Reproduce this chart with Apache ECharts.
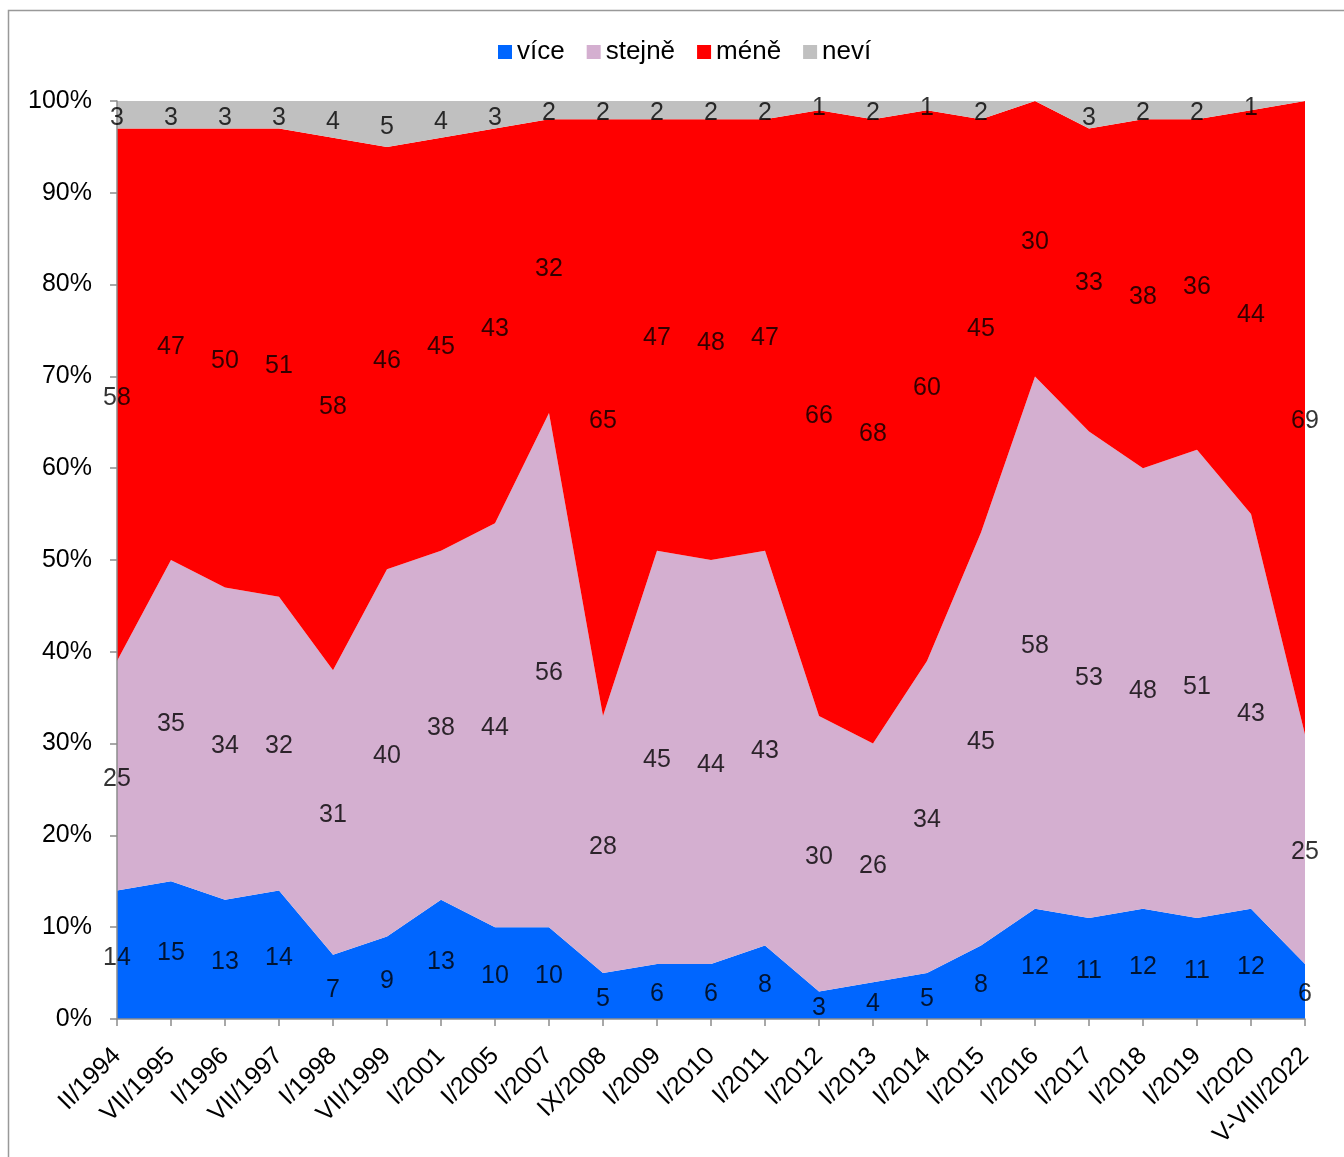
<!DOCTYPE html>
<html><head><meta charset="utf-8">
<script src="https://cdn.jsdelivr.net/npm/echarts@6/dist/echarts.min.js"></script>
<style>html,body{margin:0;padding:0;background:#fff;}#c{width:1344px;height:1157px;}</style>
</head><body><div id="c"></div>
<script>
const categories = ['II/1994','VII/1995','I/1996','VII/1997','I/1998','VII/1999','I/2001','I/2005','I/2007','IX/2008','I/2009','I/2010','I/2011','I/2012','I/2013','I/2014','I/2015','I/2016','I/2017','I/2018','I/2019','I/2020','V-VIII/2022'];
const vice   = [14,15,13,14,7,9,13,10,10,5,6,6,8,3,4,5,8,12,11,12,11,12,6];
const stejne = [25,35,34,32,31,40,38,44,56,28,45,44,43,30,26,34,45,58,53,48,51,43,25];
const mene   = [58,47,50,51,58,46,45,43,32,65,47,48,47,66,68,60,45,30,33,38,36,44,69];
const nevi   = [3,3,3,3,4,5,4,3,2,2,2,2,2,1,2,1,2,0,3,2,2,1,0];
const seriesNames = ['více','stejně','méně','neví'];
const yTicks = [0,10,20,30,40,50,60,70,80,90,100];

const colors = ['#0066FF','#D4AFD0','#FF0000','#C0C0C0'];
const all = [vice, stejne, mene, nevi];
const FONT = 'Liberation Sans, Arial, sans-serif';
const FS = 25;

const series = [];
all.forEach((arr, k) => {
  series.push({
    name: seriesNames[k], type: 'line', stack: 'total', data: arr,
    symbol: 'none', lineStyle: {width: 0}, areaStyle: {color: colors[k], opacity: 1},
    itemStyle: {color: colors[k]}, z: 2
  });
});
all.forEach((arr, k) => {
  const pts = arr.map((v, i) => {
    let base = 0;
    for (let j = 0; j < k; j++) base += all[j][i];
    return [i, base + v / 2, v];
  }).filter(p => p[2] > 0);
  series.push({
    name: 'lbl' + k, type: 'scatter', data: pts, symbolSize: 0, z: 10, silent: true,
    encode: {x: 0, y: 1},
    label: {show: true, position: 'inside', offset: [0, 3], formatter: p => String(p.value[2]),
            color: '#000', fontSize: FS, fontFamily: FONT}
  });
});

const chart = echarts.init(document.getElementById('c'), null, {renderer: 'canvas'});
chart.setOption({
  animation: false,
  backgroundColor: '#fff',
  graphic: [{type: 'rect', shape: {x: 8.5, y: 10.5, width: 1400, height: 1300},
             style: {fill: 'none', stroke: '#999', lineWidth: 1.5}, z: 0}],
  legend: {
    data: seriesNames.map(n => ({name: n, icon: 'rect'})),
    top: 34, left: 493, itemWidth: 14, itemHeight: 14, itemGap: 22,
    textStyle: {fontSize: 26, fontFamily: FONT, color: '#000'}
  },
  grid: {left: 117, right: 39, top: 101, bottom: 138, containLabel: false},
  xAxis: {
    type: 'category', data: categories, boundaryGap: false,
    axisLine: {lineStyle: {color: '#8c8c8c', width: 1.5}},
    axisTick: {show: true, length: 7, interval: 0, lineStyle: {color: '#8c8c8c', width: 1.5}},
    axisLabel: {interval: 0, rotate: 45, margin: 33, fontSize: FS, fontFamily: FONT, color: '#000'},
    z: 5
  },
  yAxis: {
    type: 'value', min: yTicks[0], max: yTicks[yTicks.length-1], interval: 10,
    axisLine: {show: true, lineStyle: {color: '#8c8c8c', width: 1.5}},
    axisTick: {show: true, length: 7, lineStyle: {color: '#8c8c8c', width: 1.5}},
    splitLine: {show: false},
    axisLabel: {formatter: '{value}%', margin: 25, fontSize: FS, fontFamily: FONT, color: '#000'},
    z: 5
  },
  series: series
});
</script></body></html>
